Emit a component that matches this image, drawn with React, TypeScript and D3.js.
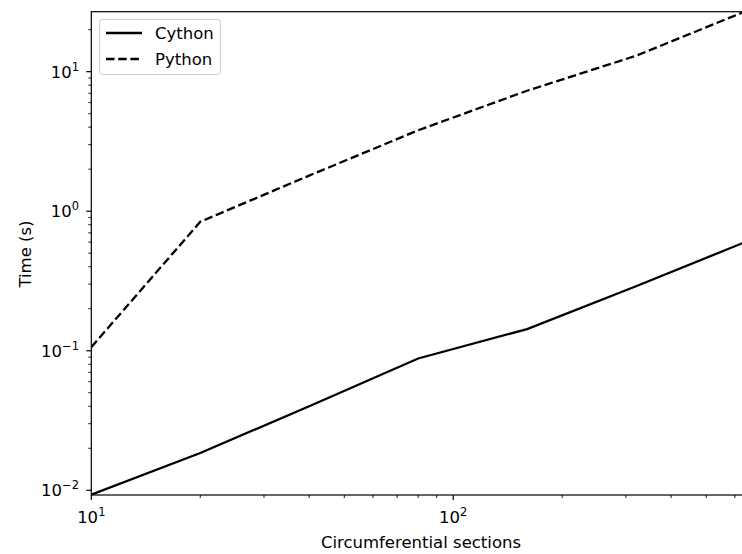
import React from "react";
import * as d3 from "d3";

const sections = [10, 20, 40, 80, 160, 320, 640];
const cythonTimes = [0.0093, 0.0185, 0.04, 0.088, 0.143, 0.29, 0.6];
const pythonTimes = [0.106, 0.84, 1.8, 3.8, 7.3, 13.0, 27.0];
const xMajor = [10, 100];
const yMajor = [0.01, 0.1, 1, 10];
const yExp = ["−2", "−1", "0", "1"];
const xExp = ["1", "2"];

const W = 742, H = 554;
const L = 91.3, R = 745, T = 11.7, B = 495;
const FS = 16.5;
const SFS = 11.5;

export default function App() {
  const x = d3.scaleLog().domain([10, 640]).range([L, R]);
  const y = d3.scaleLog().domain([0.00925, 26.9]).range([B, T]);
  const line = d3.line<number>().x((_, i) => x(sections[i])).y((v) => y(v));

  const xMinor: number[] = [];
  [10, 100].forEach((d) => { for (let k = 2; k <= 9; k++) { const v = d * k; if (v <= 640) xMinor.push(v); } });
  const yMinor: number[] = [];
  [0.001, 0.01, 0.1, 1, 10].forEach((d) => { for (let k = 2; k <= 9; k++) { const v = d * k; if (v >= 0.00925 && v <= 26.9) yMinor.push(v); } });

  const font = "DejaVu Sans, sans-serif";
  const dash = "8.5,3.7";
  return (
    <svg width={W} height={H} style={{ position: "absolute", left: 0, top: 0, background: "#fff" }} fontFamily={font}>
      <defs>
        <clipPath id="plot"><rect x={L} y={T} width={R - L} height={B - T} /></clipPath>
      </defs>
      <rect x={0} y={0} width={W} height={H} fill="#fff" />
      <g clipPath="url(#plot)" fill="none" stroke="#000" strokeWidth={2.3}>
        <path d={line(cythonTimes) || ""} />
        <path d={line(pythonTimes) || ""} strokeDasharray={dash} />
      </g>
      <rect x={L} y={T} width={R - L} height={B - T} fill="none" stroke="#000" strokeWidth={1.2} />
      {xMajor.map((v, i) => (
        <g key={"xm" + i}>
          <line x1={x(v)} x2={x(v)} y1={B} y2={B + 5} stroke="#000" strokeWidth={1.2} />
          <text x={x(v)} y={523} fontSize={FS} textAnchor="middle" fill="#000">
            10<tspan dy={-7} fontSize={SFS}>{xExp[i]}</tspan>
          </text>
        </g>
      ))}
      {xMinor.map((v, i) => (
        <line key={"xn" + i} x1={x(v)} x2={x(v)} y1={B} y2={B + 3} stroke="#000" strokeWidth={0.9} />
      ))}
      {yMajor.map((v, i) => (
        <g key={"ym" + i}>
          <line x1={L} x2={L - 5} y1={y(v)} y2={y(v)} stroke="#000" strokeWidth={1.2} />
          <text x={79} y={y(v) + 6} fontSize={FS} textAnchor="end" fill="#000">
            10<tspan dy={-7} fontSize={SFS}>{yExp[i]}</tspan>
          </text>
        </g>
      ))}
      {yMinor.map((v, i) => (
        <line key={"yn" + i} x1={L} x2={L - 3} y1={y(v)} y2={y(v)} stroke="#000" strokeWidth={0.9} />
      ))}
      <text x={421} y={548} fontSize={FS} textAnchor="middle" fill="#000">Circumferential sections</text>
      <text transform={`translate(31,254) rotate(-90)`} fontSize={FS} textAnchor="middle" fill="#000">Time (s)</text>
      <g>
        <rect x={99.5} y={19.5} width={121} height={55} rx={3} fill="#fff" fillOpacity={0.8} stroke="#ccc" strokeWidth={1} />
        <line x1={106} x2={142} y1={33} y2={33} stroke="#000" strokeWidth={2.3} />
        <line x1={106} x2={142} y1={59} y2={59} stroke="#000" strokeWidth={2.3} strokeDasharray={dash} />
        <text x={155} y={39} fontSize={FS} fill="#000">Cython</text>
        <text x={155} y={65} fontSize={FS} fill="#000">Python</text>
      </g>
    </svg>
  );
}
